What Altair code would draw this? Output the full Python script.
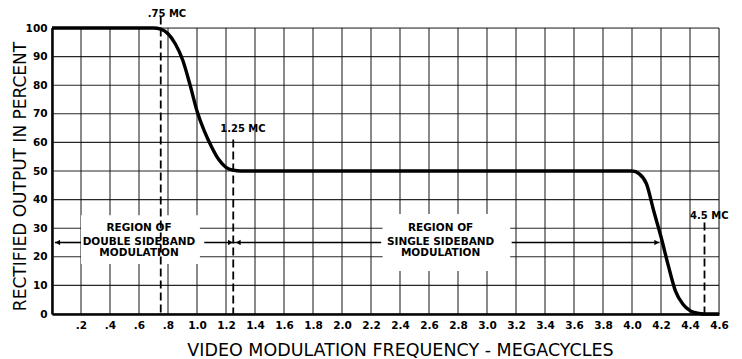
import altair as alt
import pandas as pd

# Response curve
curve_x = [0.0, 0.70, 0.75, 0.80, 0.85, 0.90, 0.95, 1.00, 1.05, 1.10, 1.15, 1.20, 1.25, 1.30,
           4.00, 4.05, 4.10, 4.15, 4.20, 4.25, 4.30, 4.35, 4.40, 4.45, 4.50, 4.60]
curve_y = [100, 100, 99.6, 98, 94.5, 89, 80.5, 71, 64, 58.5, 54, 51.3, 50.3, 50,
           50, 49, 45.5, 36, 27, 17, 8, 3.5, 1.2, 0.3, 0, 0]

# Marker lines (dashed)
mark_x = [0.75, 1.25, 4.5]
mark_top = [104, 61, 32]
mark_label = [".75 MC", "1.25 MC", "4.5 MC"]
mark_label_x = [0.66, 1.16, 4.40]
mark_label_y = [103.8, 63.8, 33.2]

# Region boxes and texts
region_x1 = [0.2, 2.28]
region_x2 = [1.02, 3.16]
region_y1 = [17.5, 15]
region_y2 = [34.5, 35]
region_cx = [0.6, 2.68]
region_lines = [["REGION OF", "DOUBLE SIDEBAND", "MODULATION"],
                ["REGION OF", "SINGLE SIDEBAND", "MODULATION"]]
line_y = [30, 25.3, 21.2]

# Arrow shafts at 25 %
arrow_x1 = [0.02, 1.05, 3.17]
arrow_x2 = [0.2, 2.27, 4.19]
arrow_y = 25
head_x = [0.04, 1.23, 1.285, 4.17]
head_shape = ["triangle-left", "triangle-right", "triangle-left", "triangle-right"]

x_ticks = [round(0.2 * i, 1) for i in range(0, 24)]
y_ticks = list(range(0, 101, 10))

W, H = 667, 286
FONT = "DejaVu Sans"

xs = alt.Scale(domain=[0, 4.6], nice=False, zero=False)
ys = alt.Scale(domain=[0, 100], nice=False)

curve_df = pd.DataFrame({"x": curve_x, "y": curve_y})

# Grid drawn as rules from the tick arrays
gx_df = pd.DataFrame({"gx": x_ticks})
gy_df = pd.DataFrame({"gy": y_ticks})

x_axis = alt.Axis(values=x_ticks, grid=False, domainColor="black", domainWidth=2.5,
                  ticks=False, labelFont=FONT, labelFontWeight="bold",
                  labelFontSize=10.5, labelColor="black", labelPadding=6,
                  labelOverlap=False, labelFlush=False,
                  labelExpr="datum.value == 0 ? '' : (datum.value < 1 ? replace(format(datum.value, '.1f'), '0.', '.') : format(datum.value, '.1f'))",
                  title="VIDEO  MODULATION  FREQUENCY - MEGACYCLES",
                  titleFont=FONT, titleFontSize=17.5, titleFontWeight="normal",
                  titleColor="black", titleX=348, titleY=36,
                  titleBaseline="middle", titleAlign="center")
y_axis = alt.Axis(values=y_ticks, grid=False, domainColor="black", domainWidth=2.5,
                  ticks=False, labelFont=FONT, labelFontWeight="bold",
                  labelFontSize=10.5, labelColor="black", labelPadding=5,
                  labelOverlap=False, labelFlush=False,
                  title="RECTIFIED  OUTPUT  IN  PERCENT",
                  titleFont=FONT, titleFontSize=17, titleFontWeight="normal",
                  titleColor="black", titleX=-32, titleY=148, titleAngle=-90,
                  titleBaseline="middle", titleAlign="center")


def X(f):
    return alt.X(f, scale=xs, axis=x_axis)


def Y(f):
    return alt.Y(f, scale=ys, axis=y_axis)


grid_v = alt.Chart(gx_df).mark_rule(color="#111", strokeWidth=1.1, opacity=0.9).encode(
    x=X("gx:Q"), y=alt.value(0), y2=alt.value(H))
grid_h = alt.Chart(gy_df).mark_rule(color="#111", strokeWidth=1.1, opacity=0.9).encode(
    y=Y("gy:Q"), x=alt.value(0), x2=alt.value(W))

region_df = pd.DataFrame({"x1": region_x1, "x2": region_x2, "y1": region_y1, "y2": region_y2})
boxes = alt.Chart(region_df).mark_rect(color="white").encode(
    x=X("x1:Q"), x2="x2:Q", y=Y("y1:Q"), y2="y2:Q")

text_rows = []
for cx, lines in zip(region_cx, region_lines):
    for ly, t in zip(line_y, lines):
        text_rows.append({"x": cx, "y": ly, "t": t})
texts = alt.Chart(pd.DataFrame(text_rows)).mark_text(
    font=FONT, fontWeight="bold", fontSize=10.5, color="black", baseline="middle", align="center"
).encode(x=X("x:Q"), y=Y("y:Q"), text="t:N")

arrow_df = pd.DataFrame({"x1": arrow_x1, "x2": arrow_x2, "y": [arrow_y] * 3})
shafts = alt.Chart(arrow_df).mark_rule(color="black", strokeWidth=1.6).encode(
    x=X("x1:Q"), x2="x2:Q", y=Y("y:Q"))

head_df = pd.DataFrame({"x": head_x, "y": [arrow_y] * 4, "s": head_shape})
heads = alt.Chart(head_df).mark_point(filled=True, color="black", opacity=1, size=28).encode(
    x=X("x:Q"), y=Y("y:Q"),
    shape=alt.Shape("s:N", scale=None, legend=None))

mark_df = pd.DataFrame({"x": mark_x, "top": mark_top, "bottom": [0] * 3,
                        "lab": mark_label, "lx": mark_label_x, "ly": mark_label_y})
dashes = alt.Chart(mark_df).mark_rule(color="black", strokeWidth=1.8, strokeDash=[8, 4], clip=False).encode(
    x=X("x:Q"), y=Y("top:Q"), y2="bottom:Q")
mark_labels = alt.Chart(mark_df).mark_text(
    font=FONT, fontWeight="bold", fontSize=10, color="black", align="left", baseline="alphabetic"
).encode(x=X("lx:Q"), y=Y("ly:Q"), text="lab:N")

curve = alt.Chart(curve_df).mark_line(color="black", strokeWidth=3.4, interpolate="monotone").encode(
    x=X("x:Q"), y=Y("y:Q"))

chart = alt.layer(grid_v, grid_h, boxes, shafts, heads, texts, dashes, mark_labels, curve).properties(
    width=W, height=H,
    autosize=alt.AutoSizeParams(type="none"),
    padding={"left": 44, "top": 20, "right": 15, "bottom": 45},
).configure_view(stroke=None).configure(background="white")

chart.save("out.html", embed_options={"renderer": "svg", "actions": False})
